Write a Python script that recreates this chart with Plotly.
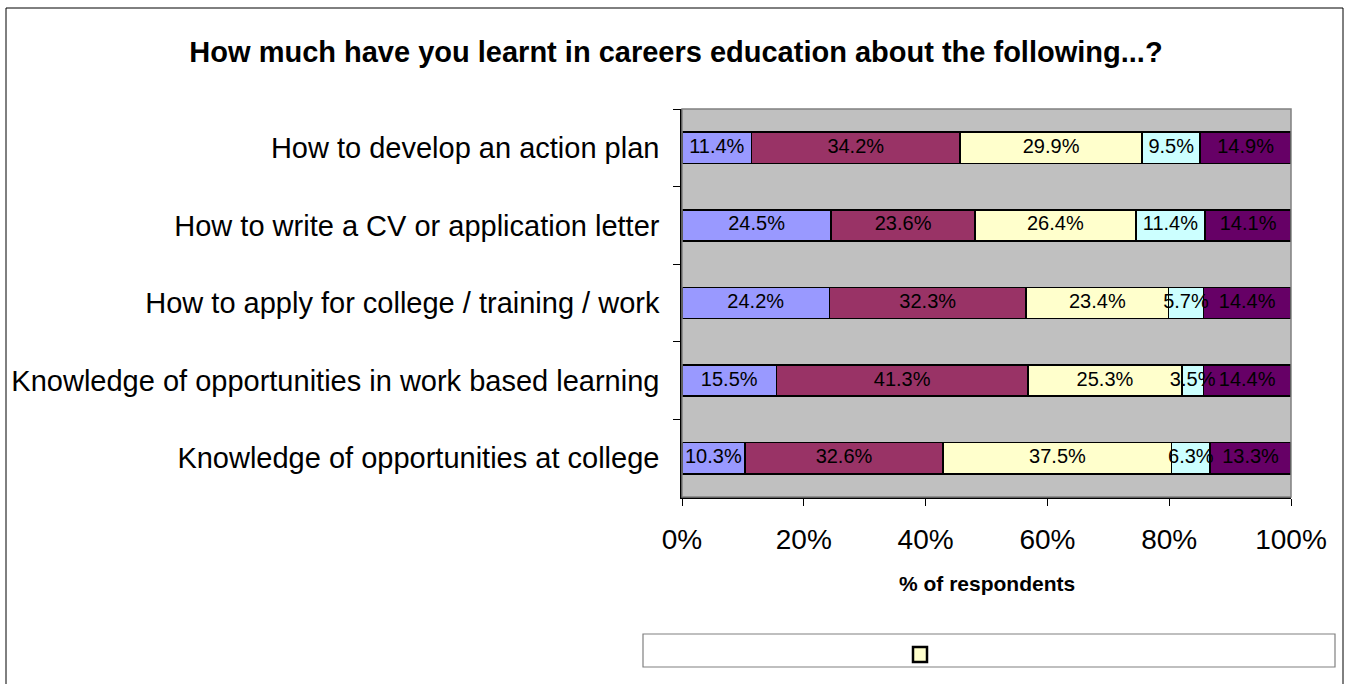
import plotly.graph_objects as go

# Survey items, listed top to bottom as they appear on the chart
items = [
    "How to develop an action plan",
    "How to write a CV or application letter",
    "How to apply for college / training / work",
    "Knowledge of opportunities in work based learning",
    "Knowledge of opportunities at college",
]

# Share of respondents (%) for each response level, per item
level_1 = [11.4, 24.5, 24.2, 15.5, 10.3]
level_2 = [34.2, 23.6, 32.3, 41.3, 32.6]
level_3 = [29.9, 26.4, 23.4, 25.3, 37.5]
level_4 = [9.5, 11.4, 5.7, 3.5, 6.3]
level_5 = [14.9, 14.1, 14.4, 14.4, 13.3]

x_ticks = [0, 20, 40, 60, 80, 100]

series = [
    (level_1, "#9999FF"),
    (level_2, "#993366"),
    (level_3, "#FFFFCC"),
    (level_4, "#CCFFFF"),
    (level_5, "#660066"),
]

FONT = "Arial, Liberation Sans, sans-serif"
W, H = 1352, 684
# plot-area box in pixels
PL, PR, PT, PB = 682, 1291, 109, 497


def px_x(x):
    return (x - PL) / (PR - PL)


def px_y(y):
    return (PB - y) / (PB - PT)


fig = go.Figure()
for values, colour in series:
    fig.add_trace(go.Bar(
        y=items,
        x=values,
        orientation="h",
        marker=dict(color=colour, line=dict(color="black", width=1.6)),
        showlegend=False,
        hoverinfo="skip",
    ))

# Value labels sit on a text layer above all bars, centred in each segment
# of the 100%-normalised stack, so labels of thin segments can overlap neighbours.
totals = [sum(vals) for vals in zip(*(s[0] for s in series))]
running = [0.0] * len(items)
for values, _ in series:
    centres = []
    for i, v in enumerate(values):
        share = 100.0 * v / totals[i]
        centres.append(running[i] + share / 2)
        running[i] += share
    fig.add_trace(go.Scatter(
        x=centres,
        y=items,
        mode="text",
        text=[f"{v:.1f}%" for v in values],
        textposition="middle center",
        textfont=dict(family=FONT, size=20, color="black"),
        showlegend=False,
        hoverinfo="skip",
        cliponaxis=False,
    ))

shapes = [
    # plot-area frame
    dict(type="rect", xref="paper", yref="paper", x0=0, x1=1, y0=0, y1=1,
         line=dict(color="#808080", width=1.5), layer="above"),
    # outer chart frame
    dict(type="rect", xref="paper", yref="paper",
         x0=px_x(6), x1=px_x(1343), y0=px_y(8), y1=px_y(700),
         line=dict(color="black", width=1)),
    # legend box
    dict(type="rect", xref="paper", yref="paper",
         x0=px_x(643), x1=px_x(1335), y0=px_y(634), y1=px_y(667),
         line=dict(color="#808080", width=1.2), fillcolor="white"),
    # legend key
    dict(type="rect", xref="paper", yref="paper",
         x0=px_x(913), x1=px_x(927), y0=px_y(647), y1=px_y(662),
         line=dict(color="black", width=2.5), fillcolor="#FFFFCC"),
]

fig.update_layout(
    width=W, height=H,
    margin=dict(l=PL, r=W - PR, t=PT, b=H - PB, pad=0),
    barmode="stack",
    barnorm="percent",
    bargap=0.6,
    paper_bgcolor="white",
    plot_bgcolor="#C0C0C0",
    font=dict(family=FONT, color="black"),
    title=dict(
        text="<b>How much have you learnt in careers education about the following...?</b>",
        x=0.5, xanchor="center", xref="container",
        y=1 - 52 / H, yanchor="middle", yref="container",
        font=dict(family=FONT, size=29, color="black"),
    ),
    shapes=shapes,
    annotations=[
        dict(text="<b>% of respondents</b>", xref="paper", yref="paper",
             x=0.5, y=px_y(583), xanchor="center", yanchor="middle",
             showarrow=False, font=dict(family=FONT, size=21, color="black")),
    ],
)

fig.update_xaxes(
    range=[0, 100],
    tickvals=x_ticks,
    ticktext=[f"{t}%" for t in x_ticks],
    ticks="outside", ticklen=7, tickwidth=1, tickcolor="black",
    showline=True, linecolor="black", linewidth=1.5,
    showgrid=False, zeroline=False,
    tickfont=dict(family=FONT, size=28, color="black"),
    ticklabelstandoff=10,
)

fig.update_yaxes(
    autorange="reversed",
    ticks="outside", tickson="boundaries", ticklen=7, tickwidth=1, tickcolor="black",
    showline=True, linecolor="black", linewidth=1.5,
    showgrid=False, zeroline=False,
    tickfont=dict(family=FONT, size=29, color="black"),
    ticklabelstandoff=15,
)

fig.write_html("out.html")
